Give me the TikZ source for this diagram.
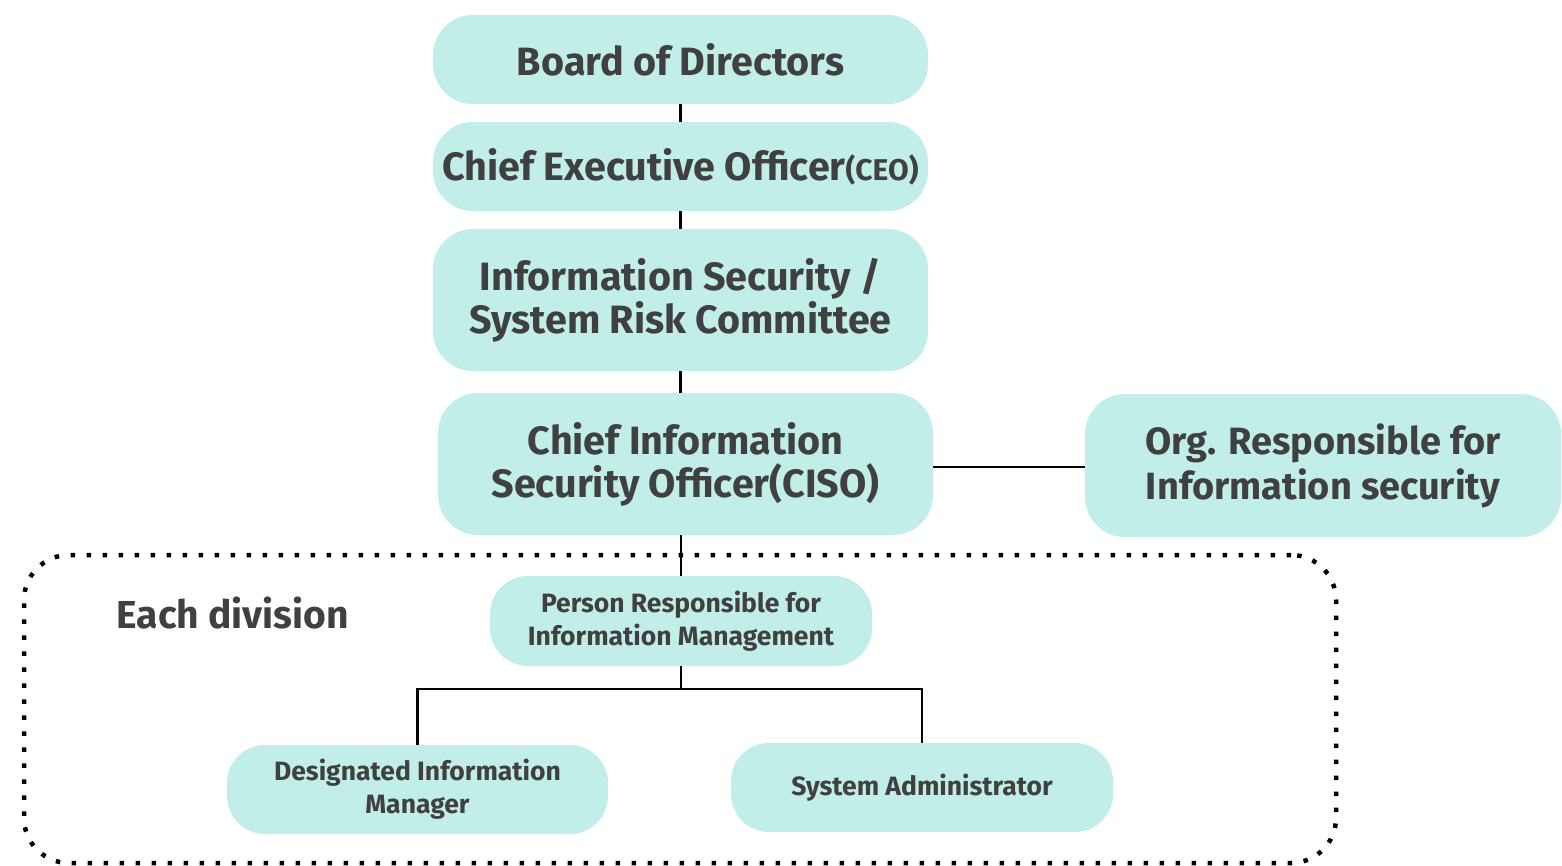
\documentclass[tikz,border=0pt]{standalone}
\usepackage{fontspec}
\setmainfont{Fira Sans}
\begin{document}
\begin{tikzpicture}[x=1pt,y=-1pt]
\definecolor{boxfill}{HTML}{C2EEE9}
\definecolor{txt}{HTML}{404040}
\tikzset{
  box/.style={fill=boxfill, rounded corners=40pt, inner sep=0pt, align=center, text=txt,
    font=\bfseries\fontsize{39.5}{43}\selectfont},
  smallbox/.style={box, rounded corners=38pt, font=\bfseries\fontsize{26.5}{33}\selectfont},
  conn/.style={line width=2.5pt, draw=black},
  divframe/.style={draw=black, line width=4.5pt, dash pattern=on 4.5pt off 11.5pt, rounded corners=45pt,
    inner sep=0pt}
}
\useasboundingbox (0,0) rectangle (1562,865);
\node[divframe, minimum width=1312pt, minimum height=308pt] (division) at (680,709) {};
\node[anchor=base west, text=txt, font=\bfseries\fontsize{39}{43}\selectfont] (divlabel) at (113,628) {Each division};
\node[box, minimum width=495pt, minimum height=89pt] (board) at (680.5,59.5) {Board of Directors};
\node[box, minimum width=495pt, minimum height=89pt] (ceo) at (680.5,166.5) {Chief Executive Officer{\fontsize{30}{33}\selectfont(CEO)}};
\node[box, minimum width=495pt, minimum height=142pt] (com) at (680.5,300) {Information Security /\\System Risk Committee};
\node[box, minimum width=495pt, minimum height=142pt] (ciso) at (685.5,464) {Chief Information\\Security Officer(CISO)};
\node[box, minimum width=476pt, minimum height=143pt, font=\bfseries\fontsize{38}{45}\selectfont] (org) at (1323,465.5) {Org. Responsible for\\Information security};
\node[smallbox, minimum width=382pt, minimum height=90pt] (person) at (681,621) {Person Responsible for\\Information Management};
\node[smallbox, minimum width=381pt, minimum height=89pt] (des) at (417.5,789.5) {Designated Information\\Manager};
\node[smallbox, minimum width=382pt, minimum height=89pt] (sys) at (922,787.5) {System Administrator};
\draw[conn] (board.south) -- (ceo.north);
\draw[conn] (ceo.south) -- (com.north);
\draw[conn] (com.south) -- (com.south |- ciso.north);
\draw[conn] (ciso.east |- 0,467) -- (org.west |- 0,467);
\draw[conn] (person.north |- ciso.south) -- (person.north);
\draw[conn] (person.south) -- ++(0,23) coordinate (split) -| (des.north);
\draw[conn] (split) -| (sys.north);
\end{tikzpicture}
\end{document}
